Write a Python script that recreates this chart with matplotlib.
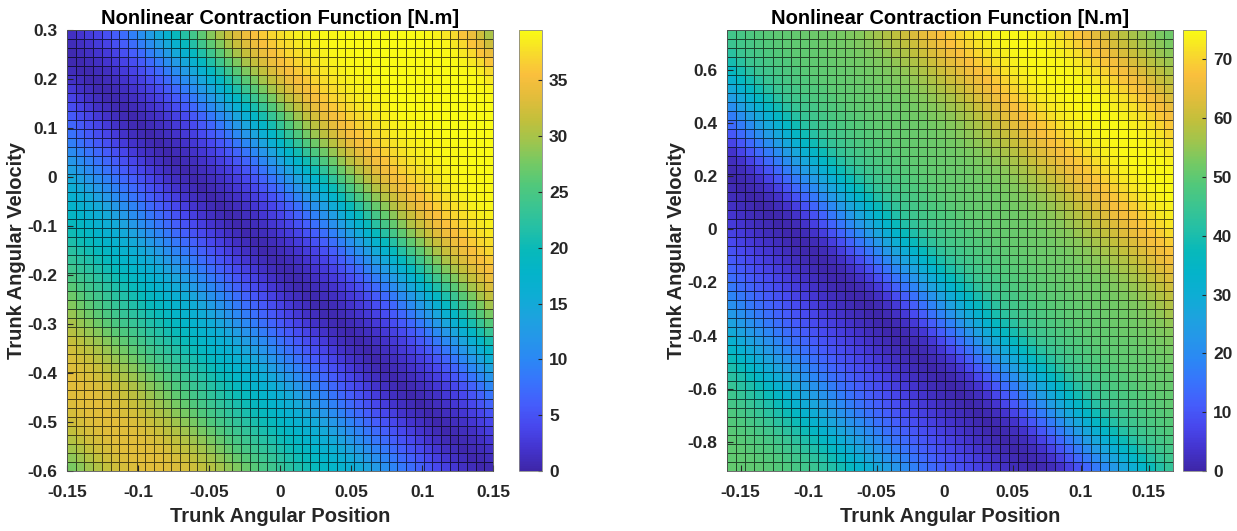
import numpy as np
import matplotlib
matplotlib.use("Agg")
import matplotlib.pyplot as plt
from matplotlib.colors import LinearSegmentedColormap

plt.rcParams['font.family'] = ['Liberation Sans', 'DejaVu Sans']
plt.rcParams['axes.unicode_minus'] = False

# ---------------- data ----------------
title_text = "Nonlinear Contraction Function [N.m]"
xlabel_text = "Trunk Angular Position"
ylabel_text = "Trunk Angular Velocity"

# Left panel
left_xlim = [-0.15, 0.15]
left_ylim = [-0.6, 0.3]
left_band = [-0.18, -2.88]          # dark valley: velocity = a + b * position
left_offsets = [-0.90, -0.85, -0.80, -0.75, -0.70, -0.65, -0.60, -0.55, -0.50,
                -0.45, -0.40, -0.35, -0.30, -0.25, -0.20, -0.15, -0.10, -0.05,
                0.00, 0.05, 0.10, 0.15, 0.20, 0.25, 0.30, 0.35, 0.40, 0.45,
                0.50, 0.55, 0.60, 0.70, 0.78, 0.82, 0.86, 0.90, 0.95, 1.00]
left_values = [25, 27, 29.5, 32, 33.3, 33.5, 32.5, 30.5, 28,
               25, 22.5, 20, 17.5, 15, 11, 7.5, 4.5, 1.8,
               0.3, 1.5, 3.5, 7, 12, 18, 25, 30.5, 34.5, 37,
               38.5, 39.2, 39.4, 39.5, 39.3, 37.5, 34, 29.5, 25, 23]
left_clim = [0, 39.5]
left_xticks = [-0.15, -0.1, -0.05, 0, 0.05, 0.1, 0.15]
left_xticklabels = ['-0.15', '-0.1', '-0.05', '0', '0.05', '0.1', '0.15']
left_yticks = [-0.6, -0.5, -0.4, -0.3, -0.2, -0.1, 0, 0.1, 0.2, 0.3]
left_yticklabels = ['-0.6', '-0.5', '-0.4', '-0.3', '-0.2', '-0.1', '0', '0.1', '0.2', '0.3']
left_cticks = [0, 5, 10, 15, 20, 25, 30, 35]

# Right panel
right_xlim = [-0.16, 0.168]
right_ylim = [-0.91, 0.75]
right_band = [-0.57, -4.9]
right_offsets = [-1.20, -1.10, -1.00, -0.90, -0.80, -0.70, -0.60, -0.50, -0.40,
                 -0.30, -0.20, -0.10, 0.00, 0.05, 0.10, 0.15, 0.20, 0.25, 0.30,
                 0.35, 0.40, 0.45, 0.50, 0.60, 0.70, 0.80, 0.90, 1.00, 1.10,
                 1.20, 1.30, 1.40, 1.50, 1.60, 1.70, 1.80, 1.90, 2.00, 2.10, 2.20]
right_values = [50, 50.5, 50, 48.5, 45, 39, 30, 22, 15,
                10, 6, 2.5, 0.3, 1.5, 4, 9, 14, 19, 25,
                30, 36, 41, 45, 48, 50, 51, 52, 54, 58,
                63, 68, 72.5, 74.5, 74.5, 72, 67, 61, 56, 52, 50]
right_clim = [0, 75]
right_xticks = [-0.15, -0.1, -0.05, 0, 0.05, 0.1, 0.15]
right_xticklabels = ['-0.15', '-0.1', '-0.05', '0', '0.05', '0.1', '0.15']
right_yticks = [-0.8, -0.6, -0.4, -0.2, 0, 0.2, 0.4, 0.6]
right_yticklabels = ['-0.8', '-0.6', '-0.4', '-0.2', '0', '0.2', '0.4', '0.6']
right_cticks = [0, 10, 20, 30, 40, 50, 60, 70]

n_grid = 50

# parula-like colormap
parula_anchors = [
    (0.00, (0.2422, 0.1504, 0.6603)),
    (0.05, (0.2650, 0.2040, 0.8100)),
    (0.10, (0.2810, 0.2800, 0.9300)),
    (0.15, (0.2700, 0.3650, 0.9850)),
    (0.20, (0.2200, 0.4500, 0.9900)),
    (0.25, (0.1700, 0.5300, 0.9600)),
    (0.30, (0.1450, 0.5900, 0.9150)),
    (0.35, (0.1100, 0.6400, 0.8700)),
    (0.40, (0.0500, 0.6800, 0.8300)),
    (0.45, (0.0150, 0.7050, 0.7900)),
    (0.50, (0.0300, 0.7250, 0.7300)),
    (0.55, (0.1400, 0.7500, 0.6500)),
    (0.60, (0.2300, 0.7700, 0.5700)),
    (0.65, (0.3200, 0.7850, 0.4800)),
    (0.70, (0.4600, 0.7900, 0.3900)),
    (0.75, (0.6300, 0.7700, 0.3000)),
    (0.80, (0.7700, 0.7500, 0.2300)),
    (0.85, (0.8900, 0.7400, 0.2300)),
    (0.90, (0.9800, 0.7500, 0.2400)),
    (0.95, (0.9700, 0.8600, 0.1700)),
    (1.00, (0.9769, 0.9839, 0.0805)),
]
parula = LinearSegmentedColormap.from_list("parula", parula_anchors, N=256)

TXT = '#262626'

fig = plt.figure(figsize=(12.37, 5.31), dpi=100)

panels = [
    dict(ax=[0.0542, 0.113, 0.3444, 0.8305], cax=[0.4196, 0.113, 0.0186, 0.8305],
         xlim=left_xlim, ylim=left_ylim, band=left_band, off=left_offsets,
         val=left_values, clim=left_clim, xt=left_xticks, xtl=left_xticklabels,
         yt=left_yticks, ytl=left_yticklabels, ct=left_cticks),
    dict(ax=[0.5877, 0.113, 0.3606, 0.8305], cax=[0.9563, 0.113, 0.0186, 0.8305],
         xlim=right_xlim, ylim=right_ylim, band=right_band, off=right_offsets,
         val=right_values, clim=right_clim, xt=right_xticks, xtl=right_xticklabels,
         yt=right_yticks, ytl=right_yticklabels, ct=right_cticks),
]

for p in panels:
    ax = fig.add_axes(p['ax'])
    xe = np.linspace(p['xlim'][0], p['xlim'][1], n_grid)
    ye = np.linspace(p['ylim'][0], p['ylim'][1], n_grid)
    xc = 0.5 * (xe[:-1] + xe[1:])
    yc = 0.5 * (ye[:-1] + ye[1:])
    XC, YC = np.meshgrid(xc, yc)
    d = YC - (p['band'][0] + p['band'][1] * XC)
    C = np.interp(d, p['off'], p['val'])
    mesh = ax.pcolormesh(xe, ye, C, cmap=parula, vmin=p['clim'][0], vmax=p['clim'][1],
                         edgecolors=(0, 0, 0, 0.65), linewidth=0.6, shading='flat')
    ax.set_xlim(p['xlim'])
    ax.set_ylim(p['ylim'])
    ax.set_xticks(p['xt'])
    ax.set_xticklabels(p['xtl'])
    ax.set_yticks(p['yt'])
    ax.set_yticklabels(p['ytl'])
    ax.tick_params(direction='in', length=4, labelsize=12.5, colors=TXT)
    ax.tick_params(axis='x', pad=10)
    ax.tick_params(axis='y', pad=7)
    for lab in ax.get_xticklabels() + ax.get_yticklabels():
        lab.set_fontweight('bold')
    for s in ax.spines.values():
        s.set_color('#555555')
        s.set_linewidth(0.6)
    ax.set_title(title_text, fontsize=14.5, fontweight='bold', color='black', pad=4)
    ax.set_xlabel(xlabel_text, fontsize=14.5, fontweight='bold', color=TXT, labelpad=5)
    ax.set_ylabel(ylabel_text, fontsize=14.5, fontweight='bold', color=TXT, labelpad=1)

    cax = fig.add_axes(p['cax'])
    cb = fig.colorbar(mesh, cax=cax, ticks=p['ct'])
    cb.outline.set_edgecolor('#888888')
    cb.outline.set_linewidth(0.6)
    cax.tick_params(direction='in', length=3, labelsize=12.5, colors=TXT, pad=5)
    for lab in cax.get_yticklabels():
        lab.set_fontweight('bold')

fig.savefig("out.png", dpi=100)
